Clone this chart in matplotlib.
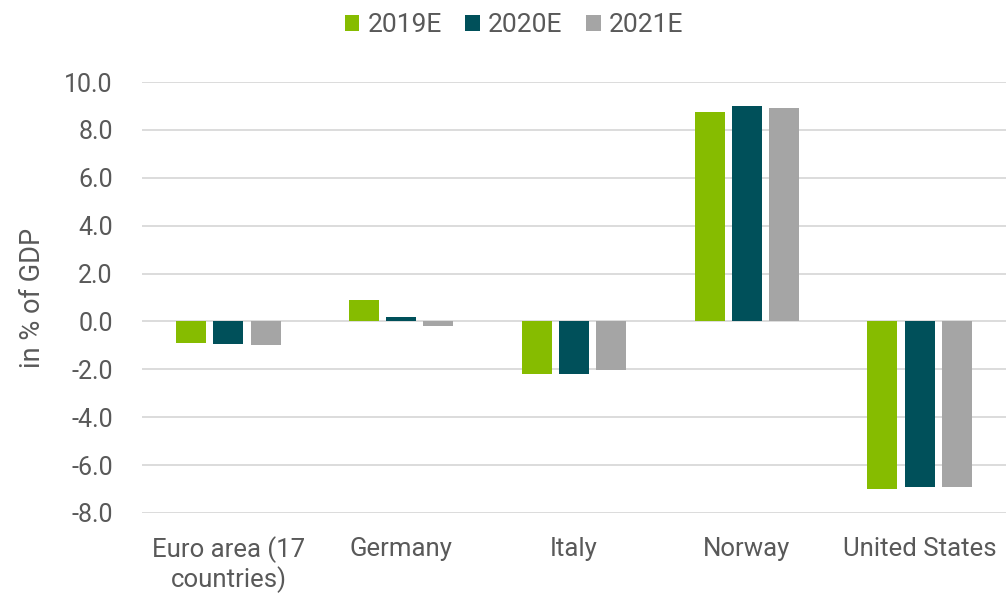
import numpy as np
import matplotlib
matplotlib.use("Agg")
import matplotlib.pyplot as plt

plt.rcParams['font.family'] = ['Roboto', 'DejaVu Sans']

categories = ["Euro area (17\ncountries)", "Germany", "Italy", "Norway", "United States"]
series_names = ["2019E", "2020E", "2021E"]
v2019 = [-0.9, 0.9, -2.2, 8.75, -7.0]
v2020 = [-0.95, 0.2, -2.2, 9.0, -6.9]
v2021 = [-1.0, -0.2, -2.05, 8.9, -6.9]
colors = ["#86BC00", "#00505A", "#A5A5A5"]
TEXT = "#595959"

fig = plt.figure(figsize=(10.07, 5.95), dpi=100)
ax = fig.add_axes([0.141, 0.138, 0.858, 0.724])

x = np.arange(len(categories))
w = 0.174
offs = [-0.215, 0, 0.215]
for vals, name, c, o in zip([v2019, v2020, v2021], series_names, colors, offs):
    ax.bar(x + o, vals, w, color=c, label=name, zorder=2)

ax.set_ylim(-8, 10)
ax.set_xlim(-0.5, len(categories) - 0.5)
ax.set_yticks(np.arange(-8, 10.1, 2))
ax.set_yticklabels([f"{t:.1f}" for t in np.arange(-8, 10.1, 2)])
ax.set_xticks(x)
ax.set_xticklabels(categories, fontsize=18.5, color=TEXT, linespacing=1.12)
ax.tick_params(axis='y', labelsize=18, colors=TEXT, length=0, pad=21)
ax.tick_params(axis='x', length=0, pad=17)
ax.grid(axis='y', color="#D9D9D9", linewidth=1.3, zorder=0)
for s in ax.spines.values():
    s.set_visible(False)
ax.set_ylabel("in % of GDP", fontsize=19.5, color=TEXT, labelpad=13)

fig.legend(*ax.get_legend_handles_labels(), loc='center',
           bbox_to_anchor=(514 / 1007, 1 - 25 / 595), ncol=3, frameon=False,
           fontsize=19, labelcolor=TEXT, handlelength=0.55, handleheight=0.55,
           handletextpad=0.3, columnspacing=0.9, borderpad=0)

fig.savefig("out.png", dpi=100)
